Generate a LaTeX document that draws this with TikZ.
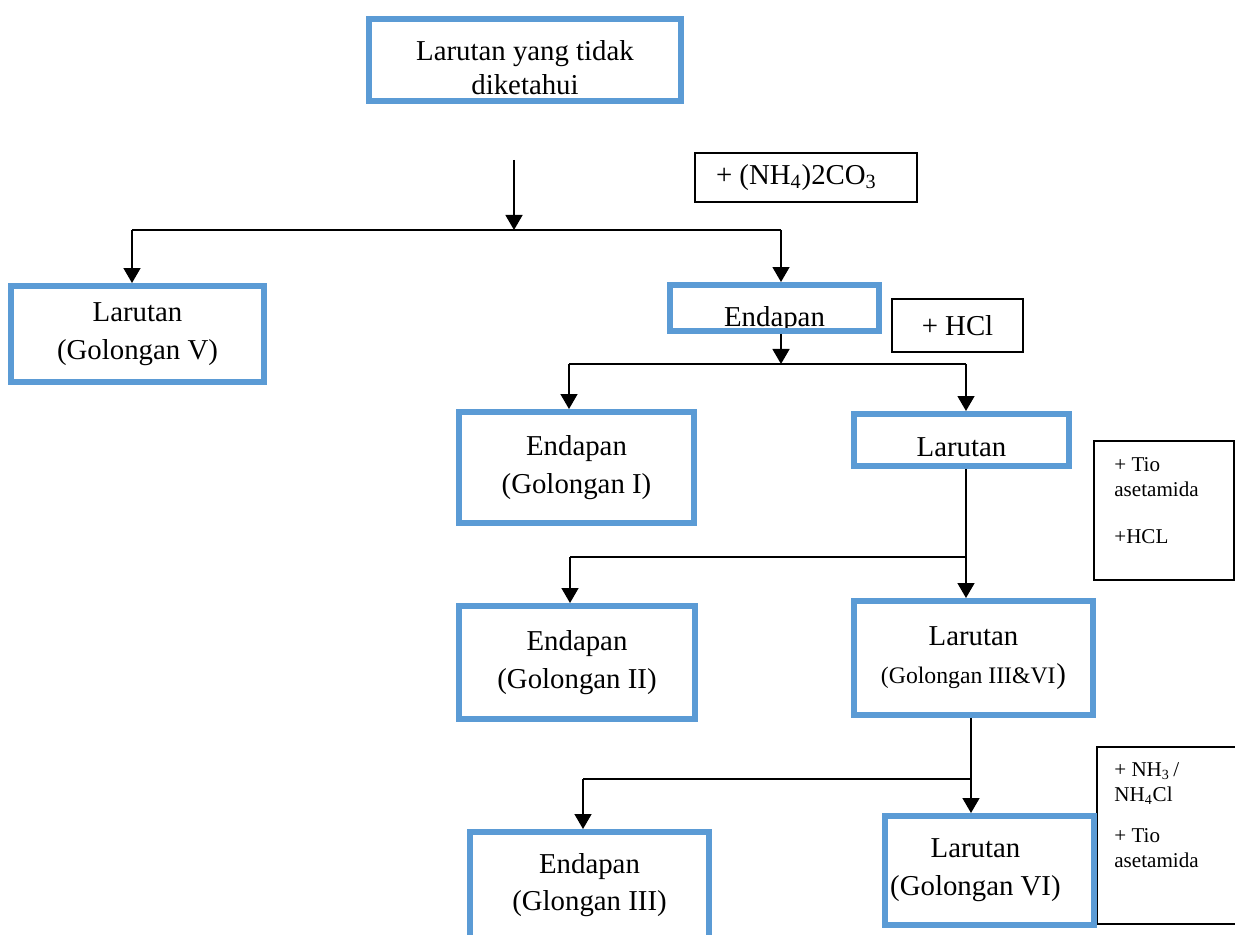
\documentclass[tikz,border=0pt]{standalone}
\usepackage{fontspec}
\setmainfont{Liberation Serif}
\usetikzlibrary{arrows.meta}
\definecolor{boxblue}{RGB}{91,155,213}
\tikzset{
  bluebox/.style={draw=boxblue, line width=0.12cm, align=center, inner sep=0pt,
    font=\fontsize{16.4}{21.5}\selectfont},
  notebox/.style={draw, line width=0.03cm, inner sep=0pt,
    font=\fontsize{16.4}{20}\selectfont},
  notetext/.style={align=left, inner sep=0pt, font=\fontsize{12}{14.5}\selectfont},
  boxtext/.style={inner sep=0pt, align=center, font=\fontsize{16.4}{19.5}\selectfont},
  flow/.style={line width=0.03cm},
  flowarrow/.style={flow, -{Triangle[width=0.34cm, length=0.3cm]}},
}

\begin{document}
\begin{tikzpicture}[x=0.02cm, y=-0.02cm]
  \useasboundingbox (0,0) rectangle (1235,935);
  \clip (0,0) rectangle (1235,935);

  % boxes
  \node[boxtext] (unknownlbl) at (525,68) {Larutan yang tidak\\diketahui};
  \node[bluebox, minimum width=6.24cm, minimum height=1.64cm] (unknown) at (525,60) {};
  \node[notebox, minimum width=4.44cm, minimum height=0.98cm] (carbonate) at (806,177.5)
    {+ (NH\textsubscript{4})2CO\textsubscript{3}\kern11pt};
  \node[bluebox, minimum width=5.06cm, minimum height=1.92cm] (golV) at (137.5,334)
    {Larutan\\(Golongan V)};
  \node[boxtext, anchor=base] (endapanlbl) at (774.5,327) {Endapan};
  \node[bluebox, minimum width=4.18cm, minimum height=0.92cm] (endapan) at (774.5,308) {};
  \node[notebox, minimum width=2.62cm, minimum height=1.06cm] (hcl) at (957.5,325.5) {+ HCl};
  \node[bluebox, minimum width=4.70cm, minimum height=2.22cm] (golI) at (576.5,467.5)
    {Endapan\\(Golongan I)};
  \node[boxtext, anchor=base] (larutanlbl) at (961.5,457) {Larutan};
  \node[bluebox, minimum width=4.30cm, minimum height=1.04cm] (larutan) at (961.5,440) {};
  \node[notebox, minimum width=2.80cm, minimum height=2.78cm] (tio) at (1164,510.5) {};
  \node[notetext, anchor=north west] (tiolbl) at (1114,457)
    {+ Tio\\asetamida\\[12pt]+HCL};
  \node[bluebox, minimum width=4.72cm, minimum height=2.26cm] (golII) at (577,662.5)
    {Endapan\\(Golongan II)};
  \node[bluebox, minimum width=4.78cm, minimum height=2.28cm] (golIIIVI) at (973.5,658)
    {Larutan\\{\fontsize{13.5}{16}\selectfont(Golongan III\&VI}\kern0.5pt)};
  \node[notebox, minimum width=3.06cm, minimum height=3.54cm] (ammonia) at (1173.5,835.5) {};
  \node[notetext, anchor=north west] (ammonialbl) at (1114,762)
    {+ NH\textsubscript{3}\,/\\NH\textsubscript{4}Cl\\[8.5pt]+ Tio\\asetamida};
  \node[bluebox, minimum width=4.78cm, minimum height=2.12cm] (golIII) at (589.5,885)
    {Endapan\\(Glongan III)};
  \node[bluebox, minimum width=4.18cm, minimum height=2.18cm] (golVI) at (989.5,870.5)
    {Larutan\kern16pt\\(Golongan VI)\kern16pt};

  % branch points
  \coordinate (start) at (514,160);
  \coordinate (s1) at (514,230);
  \coordinate (s1l) at (132,230);
  \coordinate (s1r) at (781,230);
  \coordinate (s2) at (781,364);
  \coordinate (s2l) at (569,364);
  \coordinate (s2r) at (966,364);
  \coordinate (s3) at (966,557);
  \coordinate (s3l) at (570,557);
  \coordinate (s4) at (971,779);
  \coordinate (s4l) at (583,779);

  % connectors
  \draw[flowarrow] (start) -- (s1);
  \draw[flow] (s1l) -- (s1r);
  \draw[flowarrow] (s1l) -- (s1l |- golV.north);
  \draw[flowarrow] (s1r) -- (s1r |- endapan.north);

  \draw[flowarrow] (endapan.south -| s2) -- (s2);
  \draw[flow] (s2l) -- (s2r);
  \draw[flowarrow] (s2l) -- (s2l |- golI.north);
  \draw[flowarrow] (s2r) -- (s2r |- larutan.north);

  \draw[flowarrow] (larutan.south -| s3) -- (s3 |- golIIIVI.north);
  \draw[flow] (s3l) -- (s3);
  \draw[flowarrow] (s3l) -- (s3l |- golII.north);

  \draw[flowarrow] (golIIIVI.south -| s4) -- (s4 |- golVI.north);
  \draw[flow] (s4l) -- (s4);
  \draw[flowarrow] (s4l) -- (s4l |- golIII.north);
\end{tikzpicture}
\end{document}
